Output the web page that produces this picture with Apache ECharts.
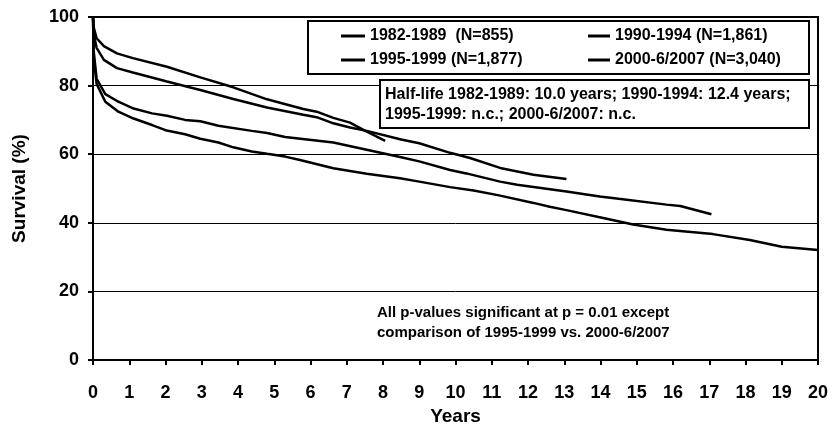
<!DOCTYPE html>
<html>
<head>
<meta charset="utf-8">
<script src="https://cdn.jsdelivr.net/npm/echarts@6/dist/echarts.min.js"></script>
<style>
  html, body { margin: 0; padding: 0; background: #fff; }
  #curve { width: 833px; height: 429px; }
</style>
</head>
<body>
<div id="curve"></div>
<script>
// cohort names as in the legend
var cohorts = ["1982-1989  (N=855)", "1990-1994 (N=1,861)", "1995-1999 (N=1,877)", "2000-6/2007 (N=3,040)"];

// survival (%), by years since start
var years8289 = [0, 0.02, 0.1, 0.34, 0.7, 1.12, 1.63, 2.0, 2.54, 2.96, 3.46, 3.87, 4.38, 4.8, 5.3, 5.71, 6.63, 7.55, 8.47, 9.0, 9.85, 10.5, 11.2, 12.15, 12.6, 13.06, 14.17, 14.9, 15.82, 17.1, 18.12, 19.0, 20];
var surv8289 = [100, 88, 80.5, 75.3, 72.4, 70.4, 68.5, 67.0, 65.8, 64.5, 63.4, 62.0, 60.8, 60.1, 59.3, 58.3, 55.9, 54.3, 53.0, 52.0, 50.4, 49.4, 48.0, 45.8, 44.7, 43.7, 41.2, 39.5, 38.0, 36.7, 35.0, 33.0, 32.1];

var years9094 = [0, 0.02, 0.1, 0.34, 0.7, 1.12, 1.63, 2.04, 2.54, 2.96, 3.46, 4.38, 4.8, 5.3, 6.63, 7.55, 8.47, 9.0, 9.85, 10.3, 11.23, 11.7, 13.06, 13.98, 14.5, 15.82, 16.2, 17.06];
var surv9094 = [100, 90, 82, 77.5, 75.3, 73.3, 71.9, 71.2, 70.0, 69.6, 68.3, 66.8, 66.2, 65.0, 63.4, 61.3, 59.2, 57.9, 55.4, 54.4, 52.0, 51.1, 49.1, 47.7, 47.0, 45.3, 44.9, 42.5];

var years9599 = [0, 0.02, 0.1, 0.3, 0.66, 1.1, 2.04, 2.96, 3.87, 4.8, 5.8, 6.17, 6.63, 7.09, 7.55, 8.5, 9.0, 9.85, 10.4, 11.23, 12.15, 13.06];
var surv9599 = [100, 95, 91, 87.5, 85.1, 83.8, 81.2, 78.7, 76.1, 73.6, 71.5, 70.8, 69.0, 67.8, 66.8, 64.3, 63.2, 60.4, 58.9, 56.0, 54.0, 52.8];

var years0007 = [0, 0.02, 0.1, 0.3, 0.66, 1.1, 2.04, 2.96, 3.87, 4.8, 5.8, 6.17, 6.63, 7.09, 7.46, 8.06];
var surv0007 = [100, 97, 93.8, 91.5, 89.4, 88.0, 85.5, 82.4, 79.5, 76.0, 73.2, 72.4, 70.6, 69.2, 67.1, 63.9];

var halfLifeText = "Half-life 1982-1989: 10.0 years; 1990-1994: 12.4 years;\n1995-1999: n.c.; 2000-6/2007: n.c.";
var pValueText = "All p-values significant at p = 0.01 except\ncomparison of 1995-1999 vs. 2000-6/2007";

function zip(xs, ys) {
  return xs.map(function (x, i) { return [x, ys[i]]; });
}

var font = "'Liberation Sans', Arial, sans-serif";
var myChart = echarts.init(document.getElementById("curve"));

function curve(name, xs, ys) {
  return {
    name: name,
    type: "line",
    data: zip(xs, ys),
    symbol: "none",
    smooth: false,
    lineStyle: { color: "#000", width: 2.5 },
    itemStyle: { color: "#000" },
    z: 2
  };
}

var legendText = { color: "#000", fontFamily: font, fontWeight: "bold", fontSize: 16, lineHeight: 18 };

var option = {
  animation: false,
  backgroundColor: "#fff",
  grid: {
    left: 93,
    right: 15,
    top: 17,
    bottom: 69,
    containLabel: false,
    outerBoundsMode: "none",
    show: true,
    borderColor: "#000",
    borderWidth: 2,
    backgroundColor: "transparent"
  },
  legend: [
    {
      data: [cohorts[0], cohorts[2]],
      orient: "vertical",
      left: 336,
      top: 22,
      itemGap: 6,
      icon: "rect",
      itemWidth: 24,
      itemHeight: 3,
      textStyle: legendText,
      z: 6
    },
    {
      data: [cohorts[1], cohorts[3]],
      orient: "vertical",
      left: 583,
      top: 22,
      itemGap: 6,
      icon: "rect",
      itemWidth: 22,
      itemHeight: 3,
      textStyle: legendText,
      z: 6
    }
  ],
  xAxis: {
    type: "value",
    min: 0,
    max: 20,
    interval: 1,
    name: "Years",
    nameLocation: "middle",
    nameGap: 42,
    nameTextStyle: { color: "#000", fontFamily: font, fontWeight: "bold", fontSize: 19 },
    axisLine: { show: true, lineStyle: { color: "#000", width: 2 } },
    axisTick: { show: true, inside: false, length: 5, lineStyle: { color: "#000", width: 2 } },
    axisLabel: { color: "#000", fontFamily: font, fontWeight: "bold", fontSize: 18, margin: 24 },
    splitLine: { show: false }
  },
  yAxis: {
    type: "value",
    min: 0,
    max: 100,
    interval: 20,
    name: "Survival (%)",
    nameLocation: "middle",
    nameGap: 64,
    nameTextStyle: { color: "#000", fontFamily: font, fontWeight: "bold", fontSize: 19 },
    axisLine: { show: true, lineStyle: { color: "#000", width: 2 } },
    axisTick: { show: true, inside: false, length: 5, lineStyle: { color: "#000", width: 2 } },
    axisLabel: { color: "#000", fontFamily: font, fontWeight: "bold", fontSize: 18, margin: 14 },
    splitLine: { show: true, lineStyle: { color: "#000", width: 1 } }
  },
  graphic: [
    {
      type: "rect",
      z: 3,
      shape: { x: 308, y: 21, width: 501, height: 53 },
      style: { fill: "#fff", stroke: "#000", lineWidth: 2 }
    },
    {
      type: "rect",
      z: 3,
      shape: { x: 380, y: 80, width: 429, height: 48 },
      style: { fill: "#fff", stroke: "#000", lineWidth: 2 }
    },
    {
      type: "text",
      z: 4,
      left: 385,
      top: 85,
      style: { text: halfLifeText, fill: "#000", font: "bold 16px " + font, lineHeight: 20 }
    },
    {
      type: "text",
      z: 4,
      left: 377,
      top: 303,
      style: { text: pValueText, fill: "#000", font: "bold 15px " + font, lineHeight: 20 }
    }
  ],
  series: [
    curve(cohorts[0], years8289, surv8289),
    curve(cohorts[1], years9094, surv9094),
    curve(cohorts[2], years9599, surv9599),
    curve(cohorts[3], years0007, surv0007)
  ]
};

option && myChart.setOption(option);
</script>
</body>
</html>
